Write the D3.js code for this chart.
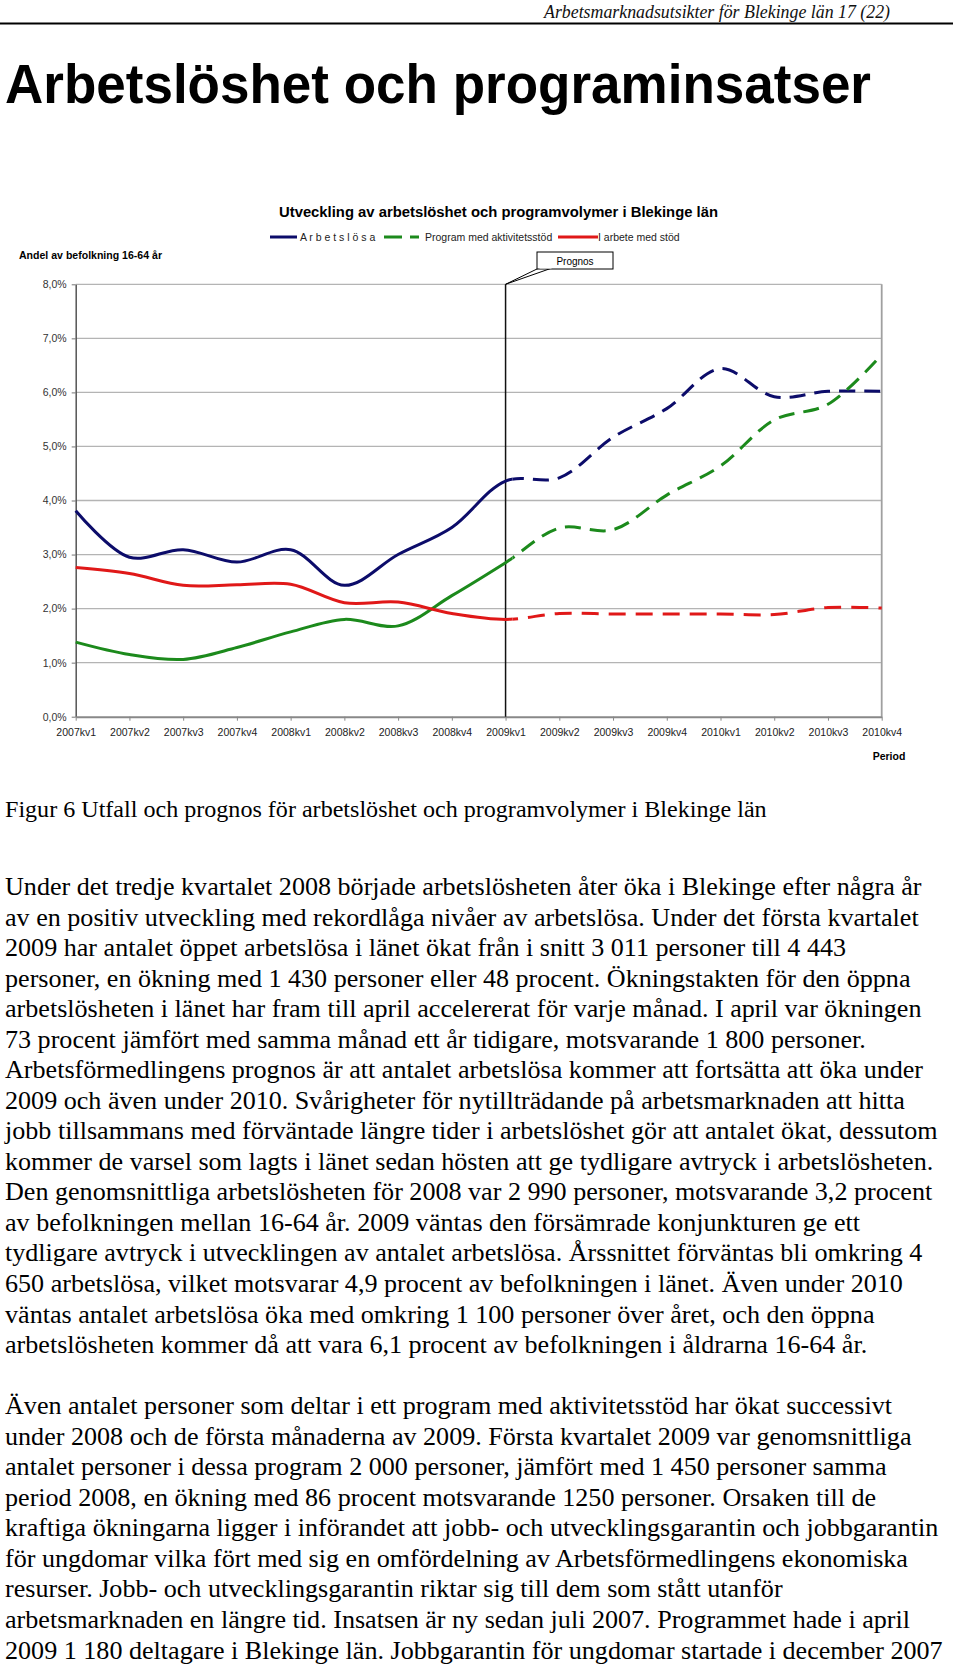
<!DOCTYPE html>
<html><head><meta charset="utf-8">
<script src="https://cdn.jsdelivr.net/npm/d3@7/dist/d3.min.js"></script>
<style>
body{margin:0;background:#fff;}
svg{display:block;}
</style></head><body>
<svg id="c" width="960" height="1665"></svg>
<script>
const categories = ["2007kv1","2007kv2","2007kv3","2007kv4","2008kv1","2008kv2","2008kv3","2008kv4",
  "2009kv1","2009kv2","2009kv3","2009kv4","2010kv1","2010kv2","2010kv3","2010kv4"];
const arbetslosa = [3.81,2.95,3.09,2.86,3.09,2.43,3.00,3.50,4.36,4.42,5.17,5.70,6.44,5.92,6.02,6.02];
const program    = [1.38,1.15,1.06,1.28,1.57,1.80,1.68,2.24,2.85,3.49,3.46,4.10,4.64,5.49,5.78,6.70];
const iArbete    = [2.76,2.65,2.43,2.44,2.45,2.11,2.12,1.91,1.80,1.91,1.90,1.90,1.90,1.89,2.02,2.01];
const yTicks = [0,1,2,3,4,5,6,7,8];
const prognosStart = "2009kv1";
const seriesNames = ["A r b e t s l ö s a","Program med aktivitetsstöd","I arbete med stöd"];
const seriesColors = ["#0c0c6a","#1c8a1c","#e01818"];

const headerText = "Arbetsmarknadsutsikter för Blekinge län 17 (22)";
const pageTitle = "Arbetslöshet och programinsatser";
const chartTitle = "Utveckling av arbetslöshet och programvolymer i Blekinge län";
const yAxisTitle = "Andel av befolkning 16-64 år";
const xAxisTitle = "Period";
const prognosLabel = "Prognos";
const caption = "Figur 6 Utfall och prognos för arbetslöshet och programvolymer i Blekinge län";
const bodyLines = [
"Under det tredje kvartalet 2008 började arbetslösheten åter öka i Blekinge efter några år",
"av en positiv utveckling med rekordlåga nivåer av arbetslösa. Under det första kvartalet",
"2009 har antalet öppet arbetslösa i länet ökat från i snitt 3 011 personer till 4 443",
"personer, en ökning med 1 430 personer eller 48 procent. Ökningstakten för den öppna",
"arbetslösheten i länet har fram till april accelererat för varje månad. I april var ökningen",
"73 procent jämfört med samma månad ett år tidigare, motsvarande 1 800 personer.",
"Arbetsförmedlingens prognos är att antalet arbetslösa kommer att fortsätta att öka under",
"2009 och även under 2010. Svårigheter för nytillträdande på arbetsmarknaden att hitta",
"jobb tillsammans med förväntade längre tider i arbetslöshet gör att antalet ökat, dessutom",
"kommer de varsel som lagts i länet sedan hösten att ge tydligare avtryck i arbetslösheten.",
"Den genomsnittliga arbetslösheten för 2008 var 2 990 personer, motsvarande 3,2 procent",
"av befolkningen mellan 16-64 år. 2009 väntas den försämrade konjunkturen ge ett",
"tydligare avtryck i utvecklingen av antalet arbetslösa. Årssnittet förväntas bli omkring 4",
"650 arbetslösa, vilket motsvarar 4,9 procent av befolkningen i länet. Även under 2010",
"väntas antalet arbetslösa öka med omkring 1 100 personer över året, och den öppna",
"arbetslösheten kommer då att vara 6,1 procent av befolkningen i åldrarna 16-64 år.",
"",
"Även antalet personer som deltar i ett program med aktivitetsstöd har ökat successivt",
"under 2008 och de första månaderna av 2009. Första kvartalet 2009 var genomsnittliga",
"antalet personer i dessa program 2 000 personer, jämfört med 1 450 personer samma",
"period 2008, en ökning med 86 procent motsvarande 1250 personer. Orsaken till de",
"kraftiga ökningarna ligger i införandet att jobb- och utvecklingsgarantin och jobbgarantin",
"för ungdomar vilka fört med sig en omfördelning av Arbetsförmedlingens ekonomiska",
"resurser. Jobb- och utvecklingsgarantin riktar sig till dem som stått utanför",
"arbetsmarknaden en längre tid. Insatsen är ny sedan juli 2007. Programmet hade i april",
"2009 1 180 deltagare i Blekinge län. Jobbgarantin för ungdomar startade i december 2007"
];

const svg = d3.select("#c");
const sans = "'Liberation Sans', Arial, Helvetica, sans-serif";
const serif = "'Liberation Serif', 'Times New Roman', Times, serif";

// header
svg.append("text").attr("x", 890).attr("y", 18).attr("text-anchor","end")
  .attr("font-family", serif).attr("font-style","italic").attr("font-size", 18)
  .attr("textLength", 346).attr("lengthAdjust","spacingAndGlyphs").attr("fill","#111").text(headerText);
svg.append("line").attr("x1",0).attr("x2",953).attr("y1",23.5).attr("y2",23.5)
  .attr("stroke","#000").attr("stroke-width",2);

// page title
svg.append("text").attr("x", 5).attr("y", 103)
  .attr("font-family", sans).attr("font-weight","bold").attr("font-size", 56)
  .attr("textLength", 866).attr("lengthAdjust","spacingAndGlyphs").attr("fill","#000").text(pageTitle);

// chart
const x = d3.scalePoint().domain(categories).range([75.7, 881.7]);
const y = d3.scaleLinear().domain([0, 8]).range([716.7, 284.3]);
const fmt = v => d3.format(".1f")(v).replace(".", ",") + "%";

svg.append("text").attr("x", 498.5).attr("y", 216.5).attr("text-anchor","middle")
  .attr("font-family", sans).attr("font-weight","bold").attr("font-size", 14.5)
  .attr("textLength", 439).attr("lengthAdjust","spacingAndGlyphs").text(chartTitle);

svg.append("text").attr("x", 19).attr("y", 259)
  .attr("font-family", sans).attr("font-weight","bold").attr("font-size", 10.5)
  .attr("textLength", 143).attr("lengthAdjust","spacingAndGlyphs").text(yAxisTitle);

// gridlines
svg.append("g").selectAll("line").data(yTicks.filter(d => d > 0)).join("line")
  .attr("x1", x.range()[0]).attr("x2", x.range()[1])
  .attr("y1", d => y(d)).attr("y2", d => y(d))
  .attr("stroke","#b4b4b4").attr("stroke-width",1.3);
// right border
svg.append("line").attr("x1", x.range()[1]).attr("x2", x.range()[1])
  .attr("y1", y(8)).attr("y2", y(0)).attr("stroke","#a0a0a0").attr("stroke-width",1.8);

// y axis
const yAxis = svg.append("g").attr("transform", `translate(${x.range()[0]},0)`)
  .call(d3.axisLeft(y).tickValues(yTicks).tickFormat(fmt).tickSize(4).tickPadding(5).tickSizeOuter(0));
yAxis.select(".domain").attr("stroke","#555").attr("stroke-width",1.5);
yAxis.selectAll(".tick line").attr("stroke","#777");
yAxis.selectAll("text").attr("font-family", sans).attr("font-size", 10.5).attr("fill","#333");

// x axis
const xAxis = svg.append("g").attr("transform", `translate(0,${y(0)})`)
  .call(d3.axisBottom(x).tickSize(4).tickPadding(8).tickSizeOuter(0));
xAxis.select(".domain").attr("stroke","#888").attr("stroke-width",2);
xAxis.selectAll(".tick line").attr("stroke","#888");
xAxis.selectAll("text").attr("font-family", sans).attr("font-size", 10.5).attr("fill","#222");

svg.append("text").attr("x", 889).attr("y", 760).attr("text-anchor","middle")
  .attr("font-family", sans).attr("font-weight","bold").attr("font-size", 10.5).text(xAxisTitle);

// prognos line
const px = x(prognosStart);
svg.append("line").attr("x1", px).attr("x2", px).attr("y1", y(8)).attr("y2", y(0))
  .attr("stroke","#111").attr("stroke-width",1.5);

// clip paths
const defs = svg.append("defs");
defs.append("clipPath").attr("id","pre").append("rect")
  .attr("x", 0).attr("y", 0).attr("width", px + 7).attr("height", 1665);
defs.append("clipPath").attr("id","post").append("rect")
  .attr("x", px + 7).attr("y", 0).attr("width", 960).attr("height", 1665);

const line = d3.line().x((d,i) => x(categories[i])).y(d => y(d)).curve(d3.curveCatmullRom.alpha(0.5));
const series = [arbetslosa, program, iArbete];
const dashes = ["16,9","16,9","17,10"];
series.forEach((s, k) => {
  svg.append("path").attr("d", line(s)).attr("fill","none").attr("stroke", seriesColors[k])
    .attr("stroke-width", 3).attr("clip-path","url(#pre)");
  svg.append("path").attr("d", line(s)).attr("fill","none").attr("stroke", seriesColors[k])
    .attr("stroke-width", 3).attr("stroke-dasharray", dashes[k]).attr("clip-path","url(#post)");
});

// prognos callout
svg.append("path").attr("d", `M539,268 L${px},${y(8)} L552,268`)
  .attr("fill","#fff").attr("stroke","#000").attr("stroke-width",1);
svg.append("rect").attr("x",537).attr("y",252).attr("width",76).attr("height",17)
  .attr("fill","#fff").attr("stroke","#000").attr("stroke-width",1);
svg.append("rect").attr("x",539.5).attr("y",267).attr("width",12).attr("height",1.5).attr("fill","#fff");
svg.append("text").attr("x",575).attr("y",264.5).attr("text-anchor","middle")
  .attr("font-family", sans).attr("font-size", 10).text(prognosLabel);

// legend
const lg = svg.append("g");
const legendItems = [
  {x1:270, x2:297, tx:300, dash:null},
  {x1:384, x2:419, tx:425, dash:"18,8"},
  {x1:558, x2:598, tx:598, dash:null}
];
legendItems.forEach((it, k) => {
  lg.append("line").attr("x1", it.x1).attr("x2", it.x2).attr("y1", 237).attr("y2", 237)
    .attr("stroke", seriesColors[k]).attr("stroke-width", 3).attr("stroke-dasharray", it.dash);
  lg.append("text").attr("x", it.tx).attr("y", 240.5).attr("font-family", sans)
    .attr("font-size", 10.5).attr("fill","#222").text(seriesNames[k]);
});

// caption & body
function fitSize(str, target, base) {
  const t = svg.append("text").attr("font-family", serif).attr("font-size", base).text(str);
  const w = t.node().getComputedTextLength();
  t.remove();
  return base * target / w;
}
const capSize = fitSize(caption, 762, 20);
svg.append("text").attr("x", 5).attr("y", 817).attr("font-family", serif)
  .attr("font-size", capSize).text(caption);

const bodySize = fitSize(bodyLines[0], 917, 20);
const lineH = 30.54;
svg.append("g").selectAll("text").data(bodyLines).join("text")
  .attr("x", 5).attr("y", (d,i) => 895 + i * lineH)
  .attr("font-family", serif).attr("font-size", bodySize).text(d => d);
</script>
</body></html>
